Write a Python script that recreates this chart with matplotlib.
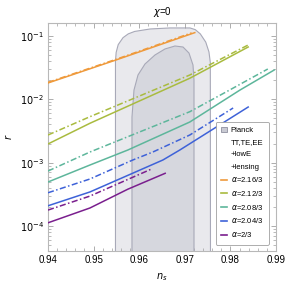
import matplotlib
matplotlib.use("Agg")
import matplotlib.pyplot as plt
from matplotlib.patches import Patch
from matplotlib.lines import Line2D
from matplotlib.ticker import LogLocator, NullFormatter, FixedLocator, FormatStrFormatter

plt.rcParams['font.family'] = ['Liberation Sans', 'DejaVu Sans']
plt.rcParams['mathtext.fontset'] = 'dejavusans'

# Planck 68% / 95% regions (ns, r)
outer_ns = [0.9548, 0.9548, 0.95495, 0.95540, 0.95645, 0.95760, 0.95900, 0.96237,
            0.96675, 0.97114, 0.97230, 0.97340, 0.97460, 0.97530, 0.97560, 0.97564]
outer_r = [1e-5, 0.040, 0.055, 0.073, 0.094, 0.108, 0.118, 0.129,
           0.134, 0.134, 0.126, 0.108, 0.080, 0.056, 0.038, 1e-5]
inner_ns = [0.95842, 0.95842, 0.95886, 0.95974, 0.96127, 0.96346, 0.96566, 0.96785,
            0.96961, 0.97092, 0.9718, 0.97202, 0.97202]
inner_r = [1e-5, 0.00525, 0.014, 0.0242, 0.0361, 0.0501, 0.0624, 0.0695,
           0.067, 0.0538, 0.0348, 0.0202, 1e-5]

# model curves: solid and dash-dot for each alpha
labels = ['2.16/3', '2.12/3', '2.08/3', '2.04/3', '2/3']
colors = ['#ef9a3c', '#a9bb3f', '#5db69b', '#3e62d8', '#7a1f8e']

solid_ns = [
    [0.94, 0.955, 0.9722],
    [0.94, 0.9492, 0.9711, 0.9839],
    [0.94, 0.9492, 0.9575, 0.9711, 0.9821, 0.9896],
    [0.94, 0.9492, 0.9652, 0.9689, 0.9839],
    [0.94, 0.9492, 0.9575, 0.9657],
]
solid_r = [
    [0.0181, 0.042, 0.113],
    [0.00197, 0.00418, 0.0215, 0.067],
    [4.94e-4, 9.16e-4, 1.58e-3, 4.38e-3, 0.014, 0.029],
    [2.08e-4, 3.44e-4, 1.10e-3, 1.58e-3, 7.55e-3],
    [1.12e-4, 1.92e-4, 3.80e-4, 6.78e-4],
]
dd_ns = [
    [0.94, 0.955, 0.9715],
    [0.94, 0.9492, 0.9711, 0.9839],
    [0.94, 0.9492, 0.9586, 0.9711, 0.9799, 0.9882],
    [0.94, 0.9492, 0.9586, 0.963, 0.9711, 0.9806],
    [0.94, 0.9492, 0.9627],
]
dd_r = [
    [0.0185, 0.043, 0.112],
    [0.00273, 0.00531, 0.0242, 0.0721],
    [7.36e-4, 1.47e-3, 2.76e-3, 6.37e-3, 0.0141, 0.0301],
    [3.34e-4, 5.51e-4, 1.10e-3, 1.47e-3, 2.73e-3, 7.29e-3],
    [1.78e-4, 2.96e-4, 7.92e-4],
]

xticks = [0.94, 0.95, 0.96, 0.97, 0.98, 0.99]
xminor = [0.94 + 0.002 * k for k in range(26)]
yticks = [1e-4, 1e-3, 1e-2, 1e-1]

fig = plt.figure(figsize=(2.89, 2.92), dpi=100)
ax = fig.add_axes([0.166, 0.140, 0.789, 0.781])

edge = '#a8a9b8'
ax.fill(outer_ns, outer_r, facecolor='#e9e9ed', edgecolor=edge, lw=0.8, zorder=1)
ax.fill(inner_ns, inner_r, facecolor='#d6d7de', edgecolor=edge, lw=0.8, zorder=2)

dd = (0, (4, 1.6, 1, 1.6))
for i in range(len(labels)):
    ax.plot(solid_ns[i], solid_r[i], color=colors[i], lw=1.1, zorder=3)
    ax.plot(dd_ns[i], dd_r[i], color=colors[i], lw=1.1, ls=dd, zorder=3)

ax.set_yscale('log')
ax.set_xlim(0.94, 0.99)
ax.set_ylim(4.0e-5, 0.16)
ax.xaxis.set_major_locator(FixedLocator(xticks))
ax.xaxis.set_major_formatter(FormatStrFormatter('%.2f'))
ax.xaxis.set_minor_locator(FixedLocator(xminor))
ax.yaxis.set_major_locator(FixedLocator(yticks))
ax.yaxis.set_minor_locator(LogLocator(base=10, subs=range(2, 10)))
ax.yaxis.set_minor_formatter(NullFormatter())
ax.set_yticklabels([r'$10^{-4}$', r'$10^{-3}$', r'$10^{-2}$', r'$10^{-1}$'])

for s in ax.spines.values():
    s.set_color('#b8b8b8')
    s.set_linewidth(0.8)
ax.tick_params(which='both', direction='in', top=True, right=True,
               color='#a0a0a0', labelsize=7, pad=3)
ax.tick_params(which='major', length=3.5, width=0.6)
ax.tick_params(which='minor', length=2, width=0.5)

ax.set_xlabel(r'$n_s$', fontsize=7, labelpad=4)
ax.set_ylabel(r'$r$', fontsize=7, labelpad=4)
ax.set_title(r'$\chi$=0', fontsize=7, pad=6)

handles = [Patch(facecolor='#c9cad3', edgecolor='#8f90a0', lw=0.6),
           Line2D([], [], color='none'), Line2D([], [], color='none'),
           Line2D([], [], color='none')]
texts = ['Planck', 'TT,TE,EE', '+lowE', '+lensing']
for c, lab in zip(colors, labels):
    handles.append(Line2D([], [], color=c, lw=1.2))
    texts.append(r'$\alpha$=' + lab)
leg = ax.legend(handles, texts, loc='lower right', bbox_to_anchor=(0.985, 0.012),
                fontsize=5.5, handlelength=0.8, handletextpad=0.5,
                labelspacing=0.62, borderpad=0.7, frameon=True, fancybox=True,
                framealpha=1, edgecolor='#a0a0a0')
leg.get_frame().set_linewidth(0.6)

fig.savefig('out.png', dpi=100)
